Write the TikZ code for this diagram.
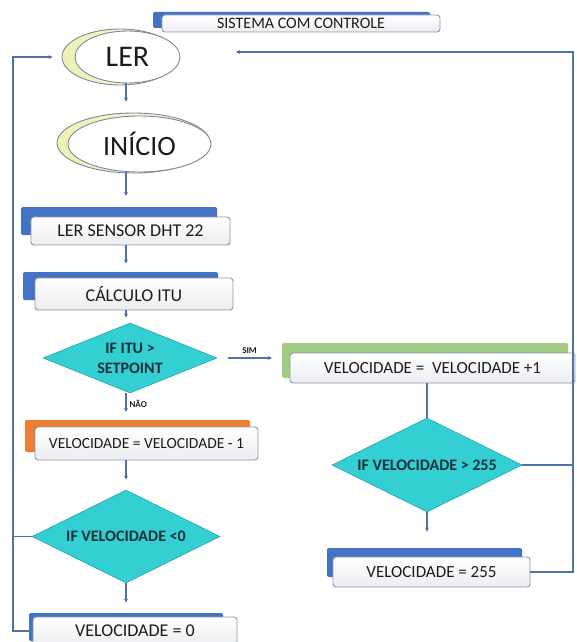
\documentclass[tikz,border=0pt]{standalone}
\usepackage{fontspec}
\setmainfont{Carlito}
\usetikzlibrary{shapes.geometric,arrows.meta,calc}
\definecolor{lnc}{HTML}{5072AA}
\definecolor{boxc}{HTML}{8C97AA}
\definecolor{boxg}{HTML}{ECEDF0}
\definecolor{blueS}{HTML}{4472C4}
\definecolor{orangeS}{HTML}{ED7D31}
\definecolor{greenS}{HTML}{A2CB86}
\definecolor{cyanD}{HTML}{33CFD2}
\definecolor{cyanB}{HTML}{2AA3AE}
\definecolor{txtc}{HTML}{1C1C1C}
\definecolor{dtxt}{HTML}{14303C}
\definecolor{yelc}{HTML}{EEF0B4}
\definecolor{ellb}{HTML}{7E8898}
\begin{document}
\begin{tikzpicture}[x=1pt,y=-1pt,
  ln/.style={draw=lnc, line width=1.1pt},
  arr/.style={ln, -{Stealth[length=4pt,width=4pt]}},
  shad/.style={rectangle, rounded corners=2pt, inner sep=0pt, draw=none},
  wbox/.style={rectangle, rounded corners=3pt, draw=boxc, line width=0.9pt, top color=white, bottom color=boxg, inner sep=0pt, text=txtc},
  dec/.style={diamond, draw=cyanB, line width=0.6pt, fill=cyanD, inner sep=0pt},
  dlab/.style={font=\bfseries\fontsize{16}{17}\selectfont, text=dtxt, align=center, inner sep=0pt},
  outell/.style={ellipse, draw=ellb, line width=0.9pt, left color=yelc, right color=yelc!40, inner sep=0pt},
  inell/.style={ellipse, draw=ellb, line width=0.9pt, fill=white, inner sep=0pt, text=txtc},
  small/.style={font=\bfseries\fontsize{9}{10}\selectfont, text=txtc, inner sep=1pt}
]
\useasboundingbox (0,0) rectangle (576,642);
\fill[white] (0,0) rectangle (576,642);

% title
\node[shad, fill=blueS, minimum width=277pt, minimum height=16pt] (tS) at (291.5,20) {};
\node[wbox, minimum width=278pt, minimum height=17pt, font=\fontsize{16}{17}\selectfont] (title) at (301,23.5) {SISTEMA COM CONTROLE};

% ellipses
\node[outell, minimum width=116pt, minimum height=56pt] (lerO) at (120,57) {};
\node[inell, minimum width=105pt, minimum height=52pt, font=\fontsize{30}{32}\selectfont] (ler) at (127.5,57) {LER};
\node[outell, minimum width=153pt, minimum height=60pt] (iniO) at (133.5,143) {};
\node[inell, minimum width=143pt, minimum height=56pt, font=\fontsize{28}{30}\selectfont] (ini) at (139.5,144) {INÍCIO};

% left column boxes
\node[shad, fill=blueS, minimum width=196pt, minimum height=28pt] (sensS) at (119,221) {};
\node[wbox, minimum width=199pt, minimum height=28pt, font=\fontsize{18}{19}\selectfont] (sens) at (130.5,231) {LER SENSOR DHT 22};

\node[shad, fill=blueS, minimum width=195pt, minimum height=28pt] (calcS) at (120.5,286) {};
\node[wbox, minimum width=198pt, minimum height=32pt, font=\fontsize{18}{19}\selectfont] (calc) at (134,294) {CÁLCULO ITU};

\node[dec, minimum width=174pt, minimum height=70pt] (d1) at (130,358) {};
\node[dlab] (d1t) at (d1) {IF ITU >\\[3pt]SETPOINT};

\node[shad, fill=orangeS, minimum width=225pt, minimum height=32pt] (vm1S) at (137.5,436) {};
\node[wbox, minimum width=223pt, minimum height=33pt, font=\fontsize{15.5}{16}\selectfont] (vm1) at (146.5,443.5) {VELOCIDADE = VELOCIDADE - 1};

\node[dec, minimum width=188pt, minimum height=93pt] (d2) at (126,536.5) {};
\node[dlab] (d2t) at (d2) {IF VELOCIDADE <0};

\node[shad, fill=blueS, minimum width=194pt, minimum height=28pt] (v0S) at (126,627) {};
\node[wbox, minimum width=204pt, minimum height=28pt, font=\fontsize{18}{19}\selectfont] (v0) at (135,631) {VELOCIDADE = 0};

% right column
\node[shad, fill=greenS, minimum width=286pt, minimum height=35pt] (vp1S) at (425,360.5) {};
\node[wbox, minimum width=285pt, minimum height=30pt, font=\fontsize{17}{18}\selectfont] (vp1) at (432.5,368) {VELOCIDADE =\ \ VELOCIDADE +1};

\node[dec, minimum width=190pt, minimum height=94pt] (d3) at (427,465) {};
\node[dlab] (d3t) at (d3) {IF VELOCIDADE > 255};

\node[shad, fill=blueS, minimum width=195pt, minimum height=29pt] (v255S) at (424.5,562.5) {};
\node[wbox, minimum width=197pt, minimum height=30pt, font=\fontsize{17}{18}\selectfont] (v255) at (431.5,572) {VELOCIDADE = 255};

% guide coordinates
\coordinate (cx) at (126,0);
\coordinate (lx) at (13,0);
\coordinate (rx) at (573,52);
\coordinate (tend) at (236,52);

% connectors left column
\draw[arr, shorten >=11pt] (ler.south -| cx) -- (iniO.north -| cx);
\draw[arr, shorten >=11pt] (ini.south -| cx) -- (sensS.north -| cx);
\draw[arr, shorten >=14pt] (sens.south -| cx) -- (calc.north -| cx);
\draw[arr, shorten >=5pt] (calc.south -| cx) -- (d1.north -| cx);
\draw[arr, shorten >=8pt] (d1.south -| cx) -- (vm1S.north -| cx) node[small, pos=0.4, anchor=west, xshift=2pt] {NÃO};
\draw[arr, shorten >=10pt] (vm1.south -| cx) -- (d2.north -| cx);
\draw[arr, shorten >=14pt] (d2.south -| cx) -- (v0.north -| cx);

% SIM
\draw[arr, shorten <=11pt, shorten >=10pt] (d1.east) -- (d1.east -| vp1S.west) node[small, midway, above=3pt] {SIM};

% right column
\draw[ln] (vp1.south -| d3.north) -- (d3.north);
\draw[arr, shorten >=25pt] (d3.south) -- (v255.north -| d3.south);
\draw[ln] (d3.east) -- (d3.east -| rx);

% loops
\draw[arr, shorten >=9pt] (v0.west) -- (v0.west -| lx) |- (lerO.west);
\draw[ln] (d2.west) -- (d2.west -| lx);
\draw[arr] (v255.east) -- (v255.east -| rx) -- (rx) -- (tend);
\end{tikzpicture}
\end{document}
